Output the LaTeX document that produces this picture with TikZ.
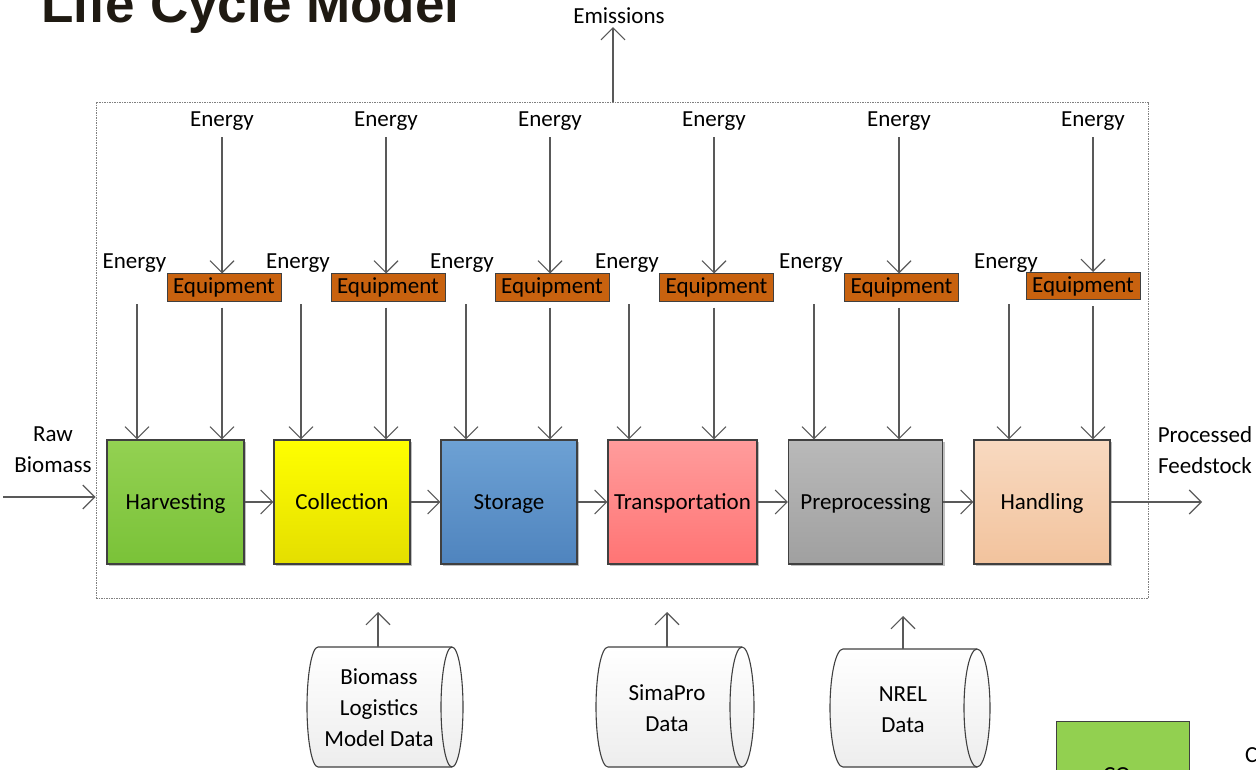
\documentclass[tikz,border=0pt]{standalone}
\usepackage{fontspec}
\setmainfont{Carlito}
\newfontfamily\headfont{Liberation Sans}
\usetikzlibrary{arrows.meta,shadows,calc}

\definecolor{linegray}{HTML}{595959}
\definecolor{boxline}{HTML}{404040}
\definecolor{framegray}{HTML}{808080}
\definecolor{titlecol}{HTML}{1F1A12}
\definecolor{equipfill}{HTML}{C8620F}
\definecolor{harvT}{HTML}{93D152}
\definecolor{harvB}{HTML}{7AC238}
\definecolor{collT}{HTML}{FFFF00}
\definecolor{collB}{HTML}{E4DE00}
\definecolor{storT}{HTML}{6DA1D4}
\definecolor{storB}{HTML}{4F84BE}
\definecolor{tranT}{HTML}{FF9C9C}
\definecolor{tranB}{HTML}{FF7474}
\definecolor{prepT}{HTML}{B9B9B9}
\definecolor{prepB}{HTML}{A0A0A0}
\definecolor{handT}{HTML}{F8D9C0}
\definecolor{handB}{HTML}{F2C39D}
\definecolor{legendgreen}{HTML}{92D050}

\tikzset{
  lbl/.style={font=\fontsize{23}{31}\selectfont, inner sep=0pt},
  toplbl/.style={lbl, anchor=base, outer ysep=6.5pt},
  arr/.style={draw=linegray, line width=1.1pt,
    -{Straight Barb[length=12pt,width=24pt,line width=1.1pt]}},
  procbox/.style={draw=boxline, line width=1.1pt, minimum height=124pt,
    text height=15pt, text depth=0pt, inner sep=0pt,
    font=\fontsize{23}{31}\selectfont,
    drop shadow={shadow xshift=2pt, shadow yshift=-2pt, opacity=0.25, fill=black}},
  equip/.style={draw=boxline, line width=1pt, fill=equipfill, minimum width=114pt,
    minimum height=27pt, text height=15pt, text depth=2pt, inner sep=0pt,
    font=\fontsize{23}{31}\selectfont},
  frame/.style={draw=framegray, line width=0.9pt, dash pattern=on 1.5pt off 1pt},
  store/.style={draw=boxline, line width=1.1pt, top color=white, bottom color=gray!14},
  storeline/.style={draw=boxline, line width=1.1pt},
}

% horizontal data store: body from #1 to #2, between #3 and #4,
% end ellipse radii #5 (across) and #6 (along)
\newcommand\dstore[6]{%
  \path[store] (#1,#3) -- (#2,#3)
    arc[start angle=90,end angle=-90,x radius=#5pt,y radius=#6pt]
    -- (#1,#4)
    arc[start angle=270,end angle=90,x radius=#5pt,y radius=#6pt] -- cycle;
  \path[storeline] (#2,#3) arc[start angle=90,end angle=270,x radius=#5pt,y radius=#6pt];
}

\begin{document}
\begin{tikzpicture}[x=1pt,y=-1pt]
\useasboundingbox (0,0) rectangle (1256,770);
\clip (0,0) rectangle (1256,770);

% heading
\node[anchor=base west, inner sep=0pt, text=titlecol,
      font=\headfont\bfseries\fontsize{53}{60}\selectfont] (title) at (41,23) {Life Cycle Model};

% system boundary
\node[frame, minimum width=1052pt, minimum height=496pt, inner sep=0pt] (frame) at (622,350) {};

% emissions leaving the system
\node[lbl, anchor=base, outer ysep=3pt] (em) at (619,24) {Emissions};
\coordinate (emsrc) at (613,102);
\draw[arr] (emsrc) -- (emsrc |- em.south);

% process chain
\node[procbox, minimum width=137pt, top color=harvT, bottom color=harvB] (b1) at (175.5,502) {Harvesting};
\node[procbox, minimum width=136pt, top color=collT, bottom color=collB] (b2) at (342,502) {Collection};
\node[procbox, minimum width=136pt, top color=storT, bottom color=storB] (b3) at (509,502) {Storage};
\node[procbox, minimum width=149pt, top color=tranT, bottom color=tranB] (b4) at (682.5,502) {Transportation};
\node[procbox, minimum width=154pt, top color=prepT, bottom color=prepB] (b5) at (865.5,502) {Preprocessing};
\node[procbox, minimum width=136pt, top color=handT, bottom color=handB] (b6) at (1042,502) {Handling};

\draw[arr] (b1.east) -- (b2.west);
\draw[arr] (b2.east) -- (b3.west);
\draw[arr] (b3.east) -- (b4.west);
\draw[arr] (b4.east) -- (b5.west);
\draw[arr] (b5.east) -- (b6.west);

% input and output
\node[lbl, align=center] (raw) at (53,450) {Raw\\Biomass};
\coordinate (in) at (3,497);
\draw[arr] (in) -- (in -| frame.west);
\node[lbl, align=center] (proc) at (1205,450) {Processed\\Feedstock};
\coordinate (out) at (1202,502);
\draw[arr] (b6.east) -- (out);

% energy and equipment inputs of each step
\foreach \i/\ux/\lx/\qx/\qy/\sx in {1/222/134.5/224/287.5/137,
    2/386/298/388/287.5/301, 3/550/462/552/287.5/466,
    4/714/627/716.5/287.5/629, 5/899/811/901.5/287.5/814,
    6/1093/1006/1083/286/1009}{
  \node[toplbl] (eu\i) at (\ux,127) {Energy};
  \node[lbl, anchor=base] (el\i) at (\lx,269) {Energy};
  \node[equip] (eq\i) at (\qx,\qy) {Equipment};
  \coordinate (src\i) at (\sx,304);
  \draw[arr] (eu\i.south) -- (eu\i.south |- eq\i.north);
  \draw[arr] ($(eu\i.south |- eq\i.south)+(0,6)$) -- (eu\i.south |- b\i.north);
  \draw[arr] (src\i) -- (src\i |- b\i.north);
}

% data sources
\dstore{318}{452}{647}{767}{11}{60}
\node[lbl, align=center] (bl) at (379,708) {Biomass\\Logistics\\Model Data};
\coordinate (blt) at (378,647);
\coordinate (blh) at (378,612);
\draw[arr] (blt) -- (blh);

\dstore{608}{742}{647}{767}{12}{60}
\node[lbl, align=center] (sp) at (667,708.5) {SimaPro\\Data};
\coordinate (spt) at (667,647);
\coordinate (sph) at (667,612);
\draw[arr] (spt) -- (sph);

\dstore{843}{977}{649}{767}{13}{59}
\node[lbl, align=center] (nr) at (903,710) {NREL\\Data};
\coordinate (nrt) at (903,649);
\coordinate (nrh) at (903,616);
\draw[arr] (nrt) -- (nrh);

% legend
\node[draw=boxline, line width=1pt, fill=legendgreen, minimum width=133pt, minimum height=80pt,
      anchor=north west, inner sep=0pt] (leg) at (1056,721) {};
\node[lbl, anchor=base west] (legtxt) at (1103,782) {CO};
\node[lbl, anchor=base west] (legside) at (1245,762) {C};
\end{tikzpicture}
\end{document}
